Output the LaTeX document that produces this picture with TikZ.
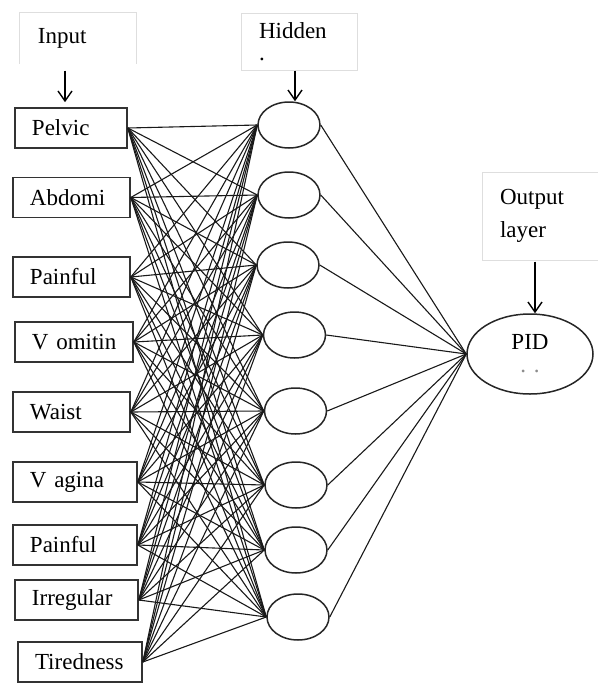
\documentclass[tikz,border=0pt]{standalone}
\usepackage{fontspec}
\setmainfont{Liberation Serif}
\usetikzlibrary{positioning}
\usetikzlibrary{calc}
\usetikzlibrary{arrows.meta}
\usetikzlibrary{shapes.geometric}

\begin{document}
\begin{tikzpicture}[x=0.5pt, y=-0.5pt, every node/.style={font=\fontsize{11.5}{13}\selectfont},
    inbox/.style={draw=black!80, line width=0.8pt, rectangle, minimum height=20pt, inner xsep=8.5pt, inner ysep=0pt, align=left},
    hid/.style={draw=black!85, ellipse, line width=0.75pt, minimum width=31pt, minimum height=23pt, inner sep=0pt},
    lbl/.style={draw=black!13, line width=0.5pt, rectangle, inner xsep=9pt, inner ysep=0pt, text width=40pt, align=left},
    link/.style={black!90, line width=0.55pt},
    arr/.style={-{Straight Barb[length=5pt,width=7pt]}, line width=0.7pt}]
    \useasboundingbox (0,0) rectangle (598,686);

    % input layer
    \foreach \n/\x/\y/\w/\t in {1/71/128/112/Pelvic, 2/71.5/197.5/117/Abdomi, 3/71.5/277/117/Painful,
                                4/74/342/118/V~omitin, 5/71.5/412/117/Waist, 6/75/482/124/V~agina,
                                7/75/545/124/Painful, 8/76.5/600/123/Irregular, 9/80/662/124/Tiredness} {
        \pgfmathsetmacro\tw{(\w-34)/2}
        \node[inbox, text width=\tw pt] (in\n) at (\x,\y) {\t};
    }

    % hidden layer
    \foreach \j/\x/\y in {1/289/125, 2/289/195, 3/288/265, 4/294.5/335,
                          5/295.5/411, 6/296/485, 7/296/550, 8/298/617} {
        \node[hid] (h\j) at (\x,\y) {};
    }

    % output layer
    \node[draw=black!85, ellipse, line width=0.75pt, minimum width=63pt, minimum height=40pt, inner sep=0pt, align=center]
        (out) at (530,354) {PID\\[-1.5pt]{\color{black!45}. .}};

    % layer labels
    \node[lbl, draw=none, minimum height=25pt] (inlbl) at (78,38) {Input};
    \draw[black!13, line width=0.5pt] (inlbl.south west) -- (inlbl.north west) -- (inlbl.north east) -- (inlbl.south east);
    \node[lbl, minimum height=28.5pt] (hidlbl) at (299,41.5) {Hidden\\[-2pt].};
    \node[lbl, minimum height=44pt] (outlbl) at (540,216) {Output\\[3.5pt]layer};

    \draw[arr] ($(inlbl.south)+(-13,7)$) -- ($(inlbl.south |- in1.north)+(-13,-5)$);
    \draw[arr] ($(hidlbl.south)+(-4,0)$) -- ($(hidlbl.south |- h1.north)+(-4,0)$);
    \draw[arr] ($(outlbl.south)+(-5,1)$) -- ($(outlbl.south |- out.north)+(-5,0)$);

    % connections
    \foreach \i in {1,...,9} {
        \foreach \j in {1,...,8} {
            \draw[link] (in\i.east) -- (h\j.west);
        }
    }
    \foreach \j in {1,...,8} {
        \draw[link] (h\j.east) -- (out.west);
    }
\end{tikzpicture}
\end{document}
